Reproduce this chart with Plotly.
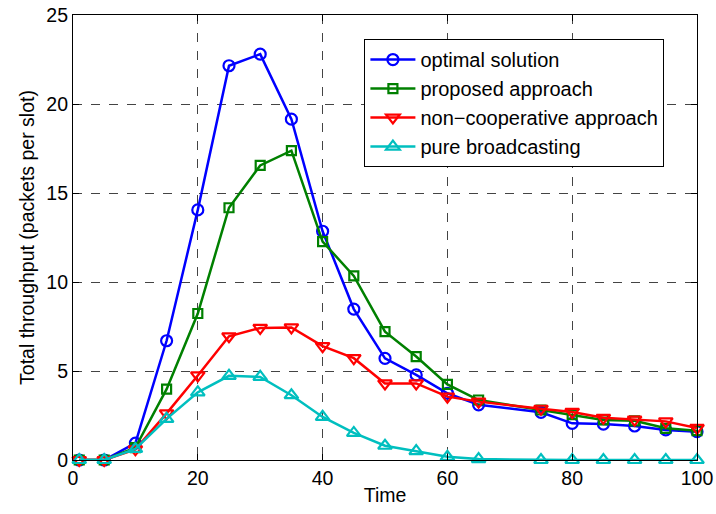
import plotly.graph_objects as go

time = [1, 5, 10, 15, 20, 25, 30, 35, 40, 45, 50, 55, 60, 65, 75, 80, 85, 90, 95, 100]
optimal = [0.0, 0.0, 0.95, 6.7, 14.05, 22.15, 22.8, 19.15, 12.85, 8.48, 5.71, 4.78, 3.75, 3.1, 2.68, 2.06, 2.02, 1.91, 1.69, 1.59]
proposed = [0.0, 0.0, 0.7, 3.98, 8.23, 14.17, 16.55, 17.38, 12.27, 10.34, 7.21, 5.81, 4.25, 3.37, 2.81, 2.55, 2.25, 2.2, 1.78, 1.65]
noncoop = [0.0, 0.0, 0.6, 2.62, 4.75, 6.95, 7.42, 7.45, 6.4, 5.72, 4.3, 4.3, 3.56, 3.28, 2.88, 2.7, 2.37, 2.27, 2.17, 1.8]
broadcast = [0.0, 0.0, 0.62, 2.31, 3.8, 4.73, 4.67, 3.64, 2.42, 1.52, 0.8, 0.5, 0.18, 0.05, 0.0, 0.0, 0.0, 0.0, 0.0, 0.0]

names = ["optimal solution", "proposed approach", "non\u2212cooperative approach", "pure broadcasting"]
series = [optimal, proposed, noncoop, broadcast]
colors = ["#0000FF", "#008000", "#FF0000", "#00BFBF"]
symbols = ["circle-open", "square-open", "triangle-down-open", "triangle-up-open"]
sizes = [11, 9, 12, 12]

FONT = "Liberation Sans, Arial, sans-serif"

fig = go.Figure()
for n, s, c, sym, sz in zip(names, series, colors, symbols, sizes):
    fig.add_trace(go.Scatter(
        x=time, y=s, name=n, mode="lines+markers",
        line=dict(color=c, width=2.5),
        marker=dict(symbol=sym, size=sz, color=c, line=dict(color=c, width=2.2)),
        cliponaxis=False,
    ))

axis_common = dict(
    showline=True, linecolor="black", linewidth=1.2, mirror="ticks",
    ticks="inside", ticklen=6, tickcolor="black",
    showgrid=True, gridcolor="#444444", griddash="dash", gridwidth=1,
    zeroline=False, automargin=False,
    tickfont=dict(family=FONT, size=19.5, color="black"),
)

fig.update_xaxes(range=[0, 100], tickvals=[0, 20, 40, 60, 80, 100],
                 title=dict(text="Time", font=dict(family=FONT, size=19.5, color="black"), standoff=0),
                 **axis_common)
fig.update_yaxes(range=[0, 25], tickvals=[0, 5, 10, 15, 20, 25],
                 title=dict(text="Total throughput (packets per slot)", font=dict(family=FONT, size=19.5, color="black"), standoff=6),
                 **axis_common)

fig.update_layout(
    width=716, height=514,
    margin=dict(l=73, r=19, t=15, b=54),
    plot_bgcolor="white", paper_bgcolor="white",
    legend=dict(
        x=0.467, y=0.946, xanchor="left", yanchor="top",
        bgcolor="white", bordercolor="black", borderwidth=1,
        font=dict(family=FONT, size=20, color="black"),
        tracegroupgap=0, itemwidth=45,
    ),
)

fig.write_html("out.html")
